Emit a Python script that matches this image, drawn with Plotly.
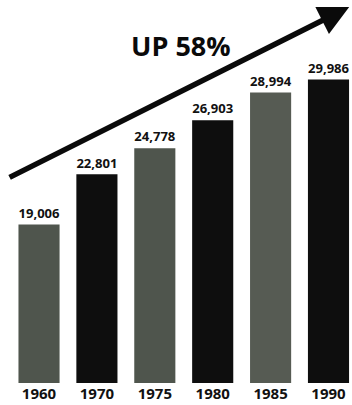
import plotly.graph_objects as go

years = ["1960", "1970", "1975", "1980", "1985", "1990"]
values = [19006, 22801, 24778, 26903, 28994, 29986]
labels = ["19,006", "22,801", "24,778", "26,903", "28,994", "29,986"]
colors = ["#4f554d", "#0e0e0e", "#4f554d", "#0e0e0e", "#565b53", "#0e0e0e"]

xpos = list(range(len(years)))

fig = go.Figure()
fig.add_trace(go.Bar(
    x=xpos, y=values, width=0.71,
    marker=dict(color=colors, line=dict(width=0)),
    text=labels, textposition="outside",
    textfont=dict(family="Open Sans", size=14, color="#111111", weight="bold"),
    cliponaxis=False,
))

fig.update_layout(
    width=352, height=405,
    margin=dict(l=0, r=0, t=0, b=22),
    paper_bgcolor="white", plot_bgcolor="white",
    showlegend=False,
    xaxis=dict(range=[-0.674, 5.406], tickvals=xpos, ticktext=years,
               showgrid=False, zeroline=False, showline=False, ticks="",
               tickfont=dict(family="Open Sans", size=15, color="#111111", weight="bold")),
    yaxis=dict(range=[7000, 36000], visible=False, showgrid=False),
    annotations=[
        dict(xref="x domain", yref="y domain", axref="x domain", ayref="y domain",
             x=0.992, y=0.982, ax=0.023, ay=0.535, text="", showarrow=True,
             arrowhead=2, arrowsize=1.1, arrowwidth=5.5, arrowcolor="#0a0a0a"),
        dict(xref="x domain", yref="y domain", x=0.514, y=0.88, text="UP 58%",
             xanchor="center", yanchor="middle", showarrow=False,
             font=dict(family="Open Sans", size=27, color="#0a0a0a", weight="bold")),
    ],
)

fig.write_html("out.html")
